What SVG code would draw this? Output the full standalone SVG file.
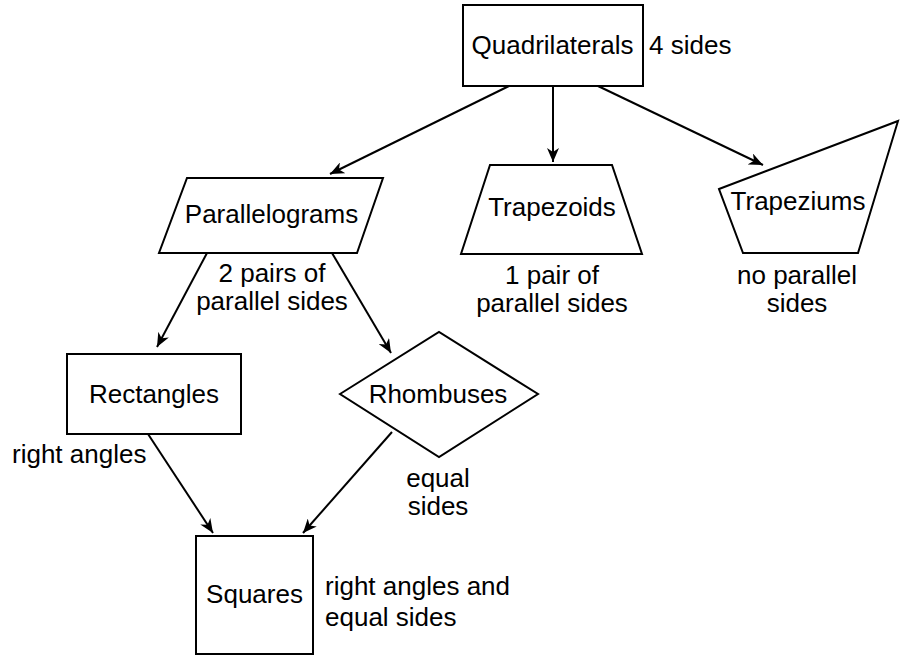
<svg xmlns="http://www.w3.org/2000/svg" width="904" height="658" viewBox="0 0 904 658">
<defs>
<style>
.shape{fill:#fff;stroke:#000;stroke-width:2;}
.edge{fill:none;stroke:#000;stroke-width:2;}
text{font-family:"Liberation Sans",Arial,Helvetica,sans-serif;font-size:26px;fill:#000;}
.c{text-anchor:middle;}
</style>
<marker id="arr" viewBox="0 0 14 12" refX="14" refY="6" markerWidth="14" markerHeight="12" markerUnits="userSpaceOnUse" orient="auto">
<path d="M0,0 L14,6 L0,12 L4,6 z" fill="#000"/>
</marker>
</defs>
<rect width="904" height="658" fill="#fff"/>
<g id="connectors">
<line class="edge" x1="509" y1="86" x2="330" y2="174" marker-end="url(#arr)"/>
<line class="edge" x1="553" y1="86" x2="553" y2="162" marker-end="url(#arr)"/>
<line class="edge" x1="598" y1="86" x2="763" y2="165" marker-end="url(#arr)"/>
<line class="edge" x1="207" y1="253" x2="157" y2="347" marker-end="url(#arr)"/>
<line class="edge" x1="332" y1="253" x2="391" y2="353" marker-end="url(#arr)"/>
<line class="edge" x1="148" y1="434" x2="213" y2="533" marker-end="url(#arr)"/>
<line class="edge" x1="392" y1="432" x2="303" y2="533" marker-end="url(#arr)"/>
</g>
<g id="quadrilaterals">
<rect class="shape" x="463" y="5" width="180" height="81"/>
<text class="c" x="552.5" y="54">Quadrilaterals</text>
<text x="649" y="54">4 sides</text>
</g>
<g id="parallelograms">
<polygon class="shape" points="187,178 383,178 357,253 159,253"/>
<text class="c" x="271.5" y="223">Parallelograms</text>
<text class="c" x="272" y="282">2 pairs of</text>
<text class="c" x="272" y="310">parallel sides</text>
</g>
<g id="trapezoids">
<polygon class="shape" points="490,165 612,165 642,254 461,254"/>
<text class="c" x="552" y="216">Trapezoids</text>
<text class="c" x="552" y="284">1 pair of</text>
<text class="c" x="552" y="312">parallel sides</text>
</g>
<g id="trapeziums">
<polygon class="shape" points="719,189 898,121 858,253 743,253"/>
<text class="c" x="798" y="210">Trapeziums</text>
<text class="c" x="797" y="284">no parallel</text>
<text class="c" x="797" y="312">sides</text>
</g>
<g id="rectangles">
<rect class="shape" x="67" y="354" width="174" height="80"/>
<text class="c" x="154" y="403">Rectangles</text>
<text x="12" y="463">right angles</text>
</g>
<g id="rhombuses">
<polygon class="shape" points="340,394 439,332 538,394 439,457"/>
<text class="c" x="438" y="403">Rhombuses</text>
<text class="c" x="438" y="487">equal</text>
<text class="c" x="438" y="515">sides</text>
</g>
<g id="squares">
<rect class="shape" x="196" y="536" width="117" height="118"/>
<text class="c" x="254.5" y="603">Squares</text>
<text x="325" y="595">right angles and</text>
<text x="325" y="626">equal sides</text>
</g>
</svg>
